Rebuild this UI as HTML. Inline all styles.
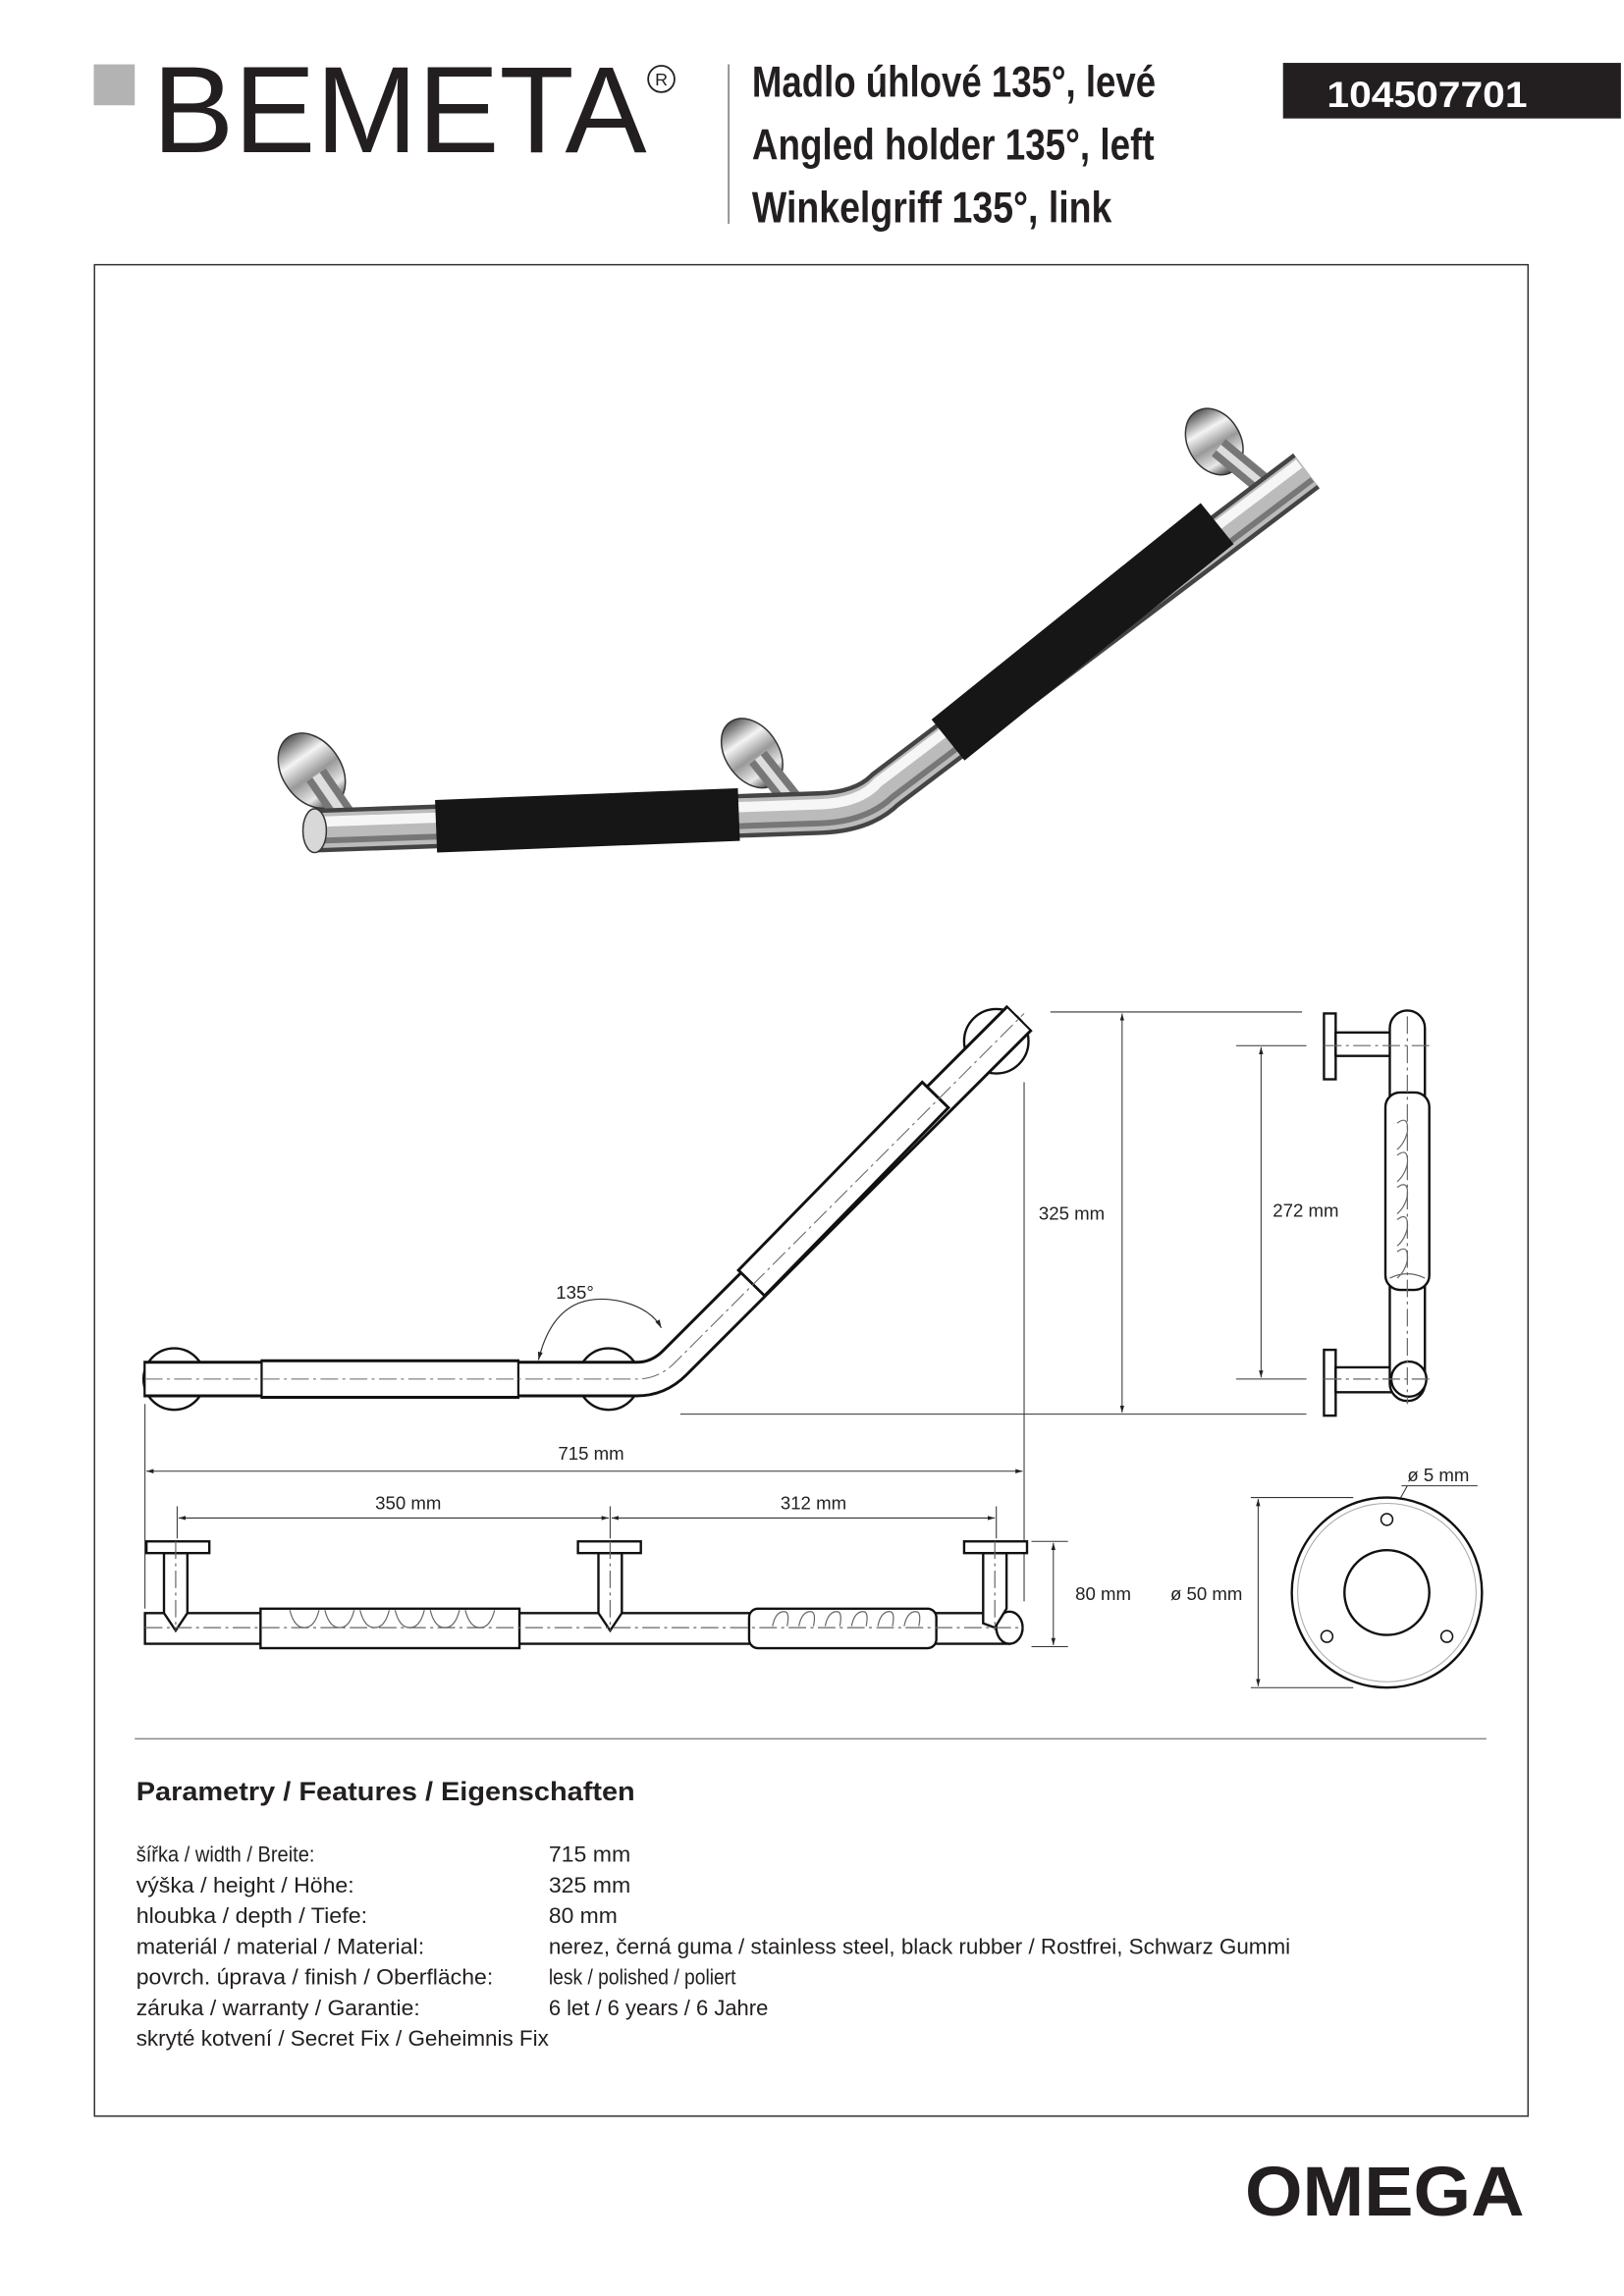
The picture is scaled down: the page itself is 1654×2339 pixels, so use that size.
<!DOCTYPE html>
<html><head><meta charset="utf-8"><style>
html,body{margin:0;padding:0;background:#fff}
svg{display:block}
text{font-family:"Liberation Sans",sans-serif}
</style></head><body>
<svg width="1654" height="2339" viewBox="0 0 1110 1570" xmlns="http://www.w3.org/2000/svg">
<defs>
<linearGradient id="chr" x1="0" y1="0" x2="0" y2="1">
<stop offset="0" stop-color="#555"/><stop offset="0.3" stop-color="#f4f4f4"/><stop offset="0.55" stop-color="#999"/><stop offset="0.8" stop-color="#e8e8e8"/><stop offset="1" stop-color="#444"/>
</linearGradient>
<marker id="ar" viewBox="0 0 10 10" refX="10" refY="5" markerWidth="7" markerHeight="7" orient="auto-start-reverse"><path d="M0,2 L10,5 L0,8 z" fill="#222"/></marker>
</defs>

<!-- header -->
<rect x="64" y="44" width="28" height="28" fill="#b3b3b3"/>
<text x="104" y="104" font-size="84" textLength="338" lengthAdjust="spacingAndGlyphs" fill="#231f20">BEMETA</text>
<circle cx="452" cy="54" r="9" fill="none" stroke="#231f20" stroke-width="1.2"/>
<text x="452" y="58.5" font-size="12" text-anchor="middle" fill="#231f20">R</text>
<line x1="498" y1="44" x2="498" y2="153" stroke="#777" stroke-width="1"/>
<text x="514" y="66" font-size="30" font-weight="bold" textLength="276" lengthAdjust="spacingAndGlyphs" fill="#231f20">Madlo úhlové 135°, levé</text>
<text x="514" y="109" font-size="30" font-weight="bold" textLength="275" lengthAdjust="spacingAndGlyphs" fill="#231f20">Angled holder 135°, left</text>
<text x="514" y="152" font-size="30" font-weight="bold" textLength="246" lengthAdjust="spacingAndGlyphs" fill="#231f20">Winkelgriff 135°, link</text>
<rect x="877" y="43" width="231" height="38" fill="#231f20"/>
<text x="907" y="73" font-size="25" font-weight="bold" textLength="137" lengthAdjust="spacingAndGlyphs" fill="#fff">104507701</text>

<rect x="64.5" y="181" width="980" height="1266" fill="none" stroke="#333" stroke-width="1"/>

<!-- photo -->
<g>
<ellipse cx="213" cy="527" rx="20" ry="28" transform="rotate(-35 213 527)" fill="url(#chr)" stroke="#333" stroke-width="1"/>
<ellipse cx="514" cy="515" rx="18" ry="26" transform="rotate(-35 514 515)" fill="url(#chr)" stroke="#333" stroke-width="1"/>
<ellipse cx="830" cy="302" rx="18" ry="24" transform="rotate(-30 830 302)" fill="url(#chr)" stroke="#333" stroke-width="1"/>
<path d="M216 530 L240 565" stroke="#777" stroke-width="16"/>
<path d="M216 530 L240 565" stroke="#ddd" stroke-width="6"/>
<path d="M518 518 L545 552" stroke="#777" stroke-width="15"/>
<path d="M518 518 L545 552" stroke="#ddd" stroke-width="5"/>
<path d="M833 306 L862 330" stroke="#777" stroke-width="15"/>
<path d="M833 306 L862 330" stroke="#ddd" stroke-width="5"/>
<path d="M215 568 L560 556 Q590 555 605 540 L893 322" fill="none" stroke="#444" stroke-width="30" stroke-linejoin="round"/>
<path d="M215 568 L560 556 Q590 555 605 540 L893 322" fill="none" stroke="#bbb" stroke-width="24" stroke-linejoin="round"/>
<path d="M215 562 L560 550 Q588 549 600 535 L888 317" fill="none" stroke="#f6f6f6" stroke-width="7"/>
<path d="M215 575 L560 563 Q592 562 610 545 L897 328" fill="none" stroke="#777" stroke-width="4"/>
<ellipse cx="215" cy="568" rx="8" ry="15" fill="#d8d8d8" stroke="#333" stroke-width="1"/>
<path d="M298 565 L505 557" stroke="#161616" stroke-width="36"/>
<path d="M648 506 L832 358" stroke="#161616" stroke-width="36"/>
</g>

<!-- front view -->
<g fill="#fff" stroke="#111" stroke-width="1.6">
<circle cx="119" cy="943" r="21"/>
<circle cx="416" cy="943" r="21"/>
<circle cx="681" cy="712" r="22"/>
</g>
<path d="M98 943 L435 943 Q450 943 461 932 L697 696" fill="none" stroke="#111" stroke-width="25" stroke-linejoin="round"/>
<path d="M99.5 943 L435 943 Q450 943 461 932 L696 697" fill="none" stroke="#fff" stroke-width="21" stroke-linejoin="round"/>
<path d="M178 943 L355 943" stroke="#111" stroke-width="27"/>
<path d="M179.5 943 L353.5 943" stroke="#fff" stroke-width="23"/>
<path d="M513 878 L640 748" stroke="#111" stroke-width="27"/>
<path d="M514.3 876.6 L638.6 749.4" stroke="#fff" stroke-width="23"/>
<path d="M99 943 L435 943 Q450 943 461 932 L700 693" fill="none" stroke="#666" stroke-width="0.7" stroke-dasharray="12 3 2 3"/>
<!-- 135 arc -->
<path d="M368 930 Q380 880 425 890 Q445 895 452 908" fill="none" stroke="#333" stroke-width="0.8" marker-start="url(#ar)" marker-end="url(#ar)"/>
<text x="380" y="888" font-size="12.5" fill="#222">135°</text>

<!-- dims -->
<g stroke="#333" stroke-width="0.7" fill="none">
<line x1="718" y1="692" x2="890" y2="692"/>
<line x1="465" y1="967" x2="893" y2="967"/>
<line x1="767" y1="693" x2="767" y2="966" marker-start="url(#ar)" marker-end="url(#ar)"/>
<line x1="845" y1="715" x2="893" y2="715"/>
<line x1="845" y1="943" x2="893" y2="943"/>
<line x1="862" y1="716" x2="862" y2="942" marker-start="url(#ar)" marker-end="url(#ar)"/>
<line x1="99" y1="960" x2="99" y2="1100"/>
<line x1="700" y1="740" x2="700" y2="1095"/>
<line x1="100" y1="1006" x2="699" y2="1006" marker-start="url(#ar)" marker-end="url(#ar)"/>
<line x1="121" y1="1030" x2="121" y2="1052"/>
<line x1="417" y1="1030" x2="417" y2="1052"/>
<line x1="681" y1="1030" x2="681" y2="1052"/>
<line x1="122" y1="1038" x2="416" y2="1038" marker-start="url(#ar)" marker-end="url(#ar)"/>
<line x1="418" y1="1038" x2="680" y2="1038" marker-start="url(#ar)" marker-end="url(#ar)"/>
<line x1="705" y1="1054" x2="730" y2="1054"/>
<line x1="705" y1="1126" x2="730" y2="1126"/>
<line x1="720" y1="1055" x2="720" y2="1125" marker-start="url(#ar)" marker-end="url(#ar)"/>
<line x1="855" y1="1024" x2="925" y2="1024"/>
<line x1="855" y1="1154" x2="925" y2="1154"/>
<line x1="860" y1="1025" x2="860" y2="1153" marker-start="url(#ar)" marker-end="url(#ar)"/>
</g>
<g font-size="12.5" fill="#222">
<text x="710" y="834">325 mm</text>
<text x="870" y="832">272 mm</text>
<text x="404" y="998" text-anchor="middle">715 mm</text>
<text x="279" y="1032" text-anchor="middle">350 mm</text>
<text x="556" y="1032" text-anchor="middle">312 mm</text>
<text x="735" y="1094">80 mm</text>
<text x="800" y="1094">ø 50 mm</text>
<text x="962" y="1013">ø 5 mm</text>
</g>
<line x1="958" y1="1016" x2="1010" y2="1016" stroke="#333" stroke-width="0.7"/>
<line x1="962" y1="1016" x2="944" y2="1048" stroke="#333" stroke-width="0.7" marker-end="url(#ar)"/>

<!-- side view -->
<g fill="#fff" stroke="#111" stroke-width="1.6">
<rect x="905" y="693" width="8" height="45"/>
<rect x="905" y="923" width="8" height="45"/>
<path d="M913 706 L960 706 L958 722 L913 722 Z"/>
<path d="M913 935 L960 935 L960 952 L913 952 Z"/>
<path d="M950 703 A12 12 0 0 1 974 703 L974 946 A12 12 0 0 1 950 946 Z"/>
<rect x="947" y="747" width="30" height="135" rx="10"/>
<circle cx="963" cy="943" r="12"/>
</g>
<g fill="none" stroke="#666" stroke-width="0.8">
<path d="M955 768 q8 -6 7 6 q-2 8 -7 12 M955 790 q8 -6 7 6 q-2 8 -7 12 M955 812 q8 -6 7 6 q-2 8 -7 12 M955 834 q8 -6 7 6 q-2 8 -7 12 M955 856 q8 -6 7 6 q-2 8 -7 12 M950 874 q12 -6 24 0"/>
<line x1="962" y1="695" x2="962" y2="960" stroke-dasharray="12 3 2 3"/>
<line x1="905" y1="715" x2="980" y2="715" stroke-dasharray="12 3 2 3"/>
<line x1="905" y1="943" x2="980" y2="943" stroke-dasharray="12 3 2 3"/>
</g>

<!-- top view -->
<g fill="#fff" stroke="#111" stroke-width="1.6">
<rect x="99" y="1113" width="601" height="0" />
<path d="M99 1103 L690 1103 L690 1124 L99 1124 Z"/>
<rect x="178" y="1100" width="177" height="27"/>
<rect x="512" y="1100" width="128" height="27" rx="6"/>
<ellipse cx="690" cy="1113" rx="9" ry="11"/>
<path d="M112 1062 L112 1103 L120 1115 L128 1103 L128 1062 Z"/>
<path d="M409 1062 L409 1103 L417 1115 L425 1103 L425 1062 Z"/>
<path d="M672 1062 L672 1110 L680 1113 L688 1100 L688 1062 Z"/>
<rect x="100" y="1054" width="43" height="8"/>
<rect x="395" y="1054" width="43" height="8"/>
<rect x="659" y="1054" width="43" height="8"/>
</g>
<g fill="none" stroke="#666" stroke-width="0.8">
<path d="M198 1101 q3 12 10 12 q7 0 10 -12 M222 1101 q3 12 10 12 q7 0 10 -12 M246 1101 q3 12 10 12 q7 0 10 -12 M270 1101 q3 12 10 12 q7 0 10 -12 M294 1101 q3 12 10 12 q7 0 10 -12 M318 1101 q3 12 10 12 q7 0 10 -12"/>
<path d="M528 1112 q2 -10 8 -10 q4 0 2 10 M546 1112 q2 -10 8 -10 q4 0 2 10 M564 1112 q2 -10 8 -10 q4 0 2 10 M582 1112 q2 -10 8 -10 q4 0 2 10 M600 1112 q2 -10 8 -10 q4 0 2 10 M618 1112 q2 -10 8 -10 q4 0 2 10"/>
<line x1="99" y1="1113" x2="700" y2="1113" stroke-dasharray="12 3 2 3"/>
<line x1="120" y1="1054" x2="120" y2="1115" stroke-dasharray="12 3 2 3"/>
<line x1="417" y1="1054" x2="417" y2="1115" stroke-dasharray="12 3 2 3"/>
<line x1="680" y1="1054" x2="680" y2="1115" stroke-dasharray="12 3 2 3"/>
</g>

<!-- round flange -->
<circle cx="948" cy="1089" r="65" fill="#fff" stroke="#111" stroke-width="1.6"/>
<circle cx="948" cy="1089" r="61" fill="none" stroke="#aaa" stroke-width="0.7"/>
<circle cx="948" cy="1089" r="29" fill="none" stroke="#111" stroke-width="1.6"/>
<circle cx="948" cy="1039" r="4" fill="none" stroke="#111" stroke-width="1"/>
<circle cx="907" cy="1119" r="4" fill="none" stroke="#111" stroke-width="1"/>
<circle cx="989" cy="1119" r="4" fill="none" stroke="#111" stroke-width="1"/>

<line x1="92" y1="1189" x2="1016" y2="1189" stroke="#888" stroke-width="1"/>

<!-- params -->
<text x="93" y="1231" font-size="18" font-weight="bold" textLength="341" lengthAdjust="spacingAndGlyphs" fill="#231f20">Parametry / Features / Eigenschaften</text>
<g font-size="15" fill="#231f20">
<text x="93" y="1273" textLength="122" lengthAdjust="spacingAndGlyphs">šířka / width / Breite:</text>
<text x="93" y="1294" textLength="149" lengthAdjust="spacingAndGlyphs">výška / height / Höhe:</text>
<text x="93" y="1315" textLength="158" lengthAdjust="spacingAndGlyphs">hloubka / depth / Tiefe:</text>
<text x="93" y="1336" textLength="197" lengthAdjust="spacingAndGlyphs">materiál / material / Material:</text>
<text x="93" y="1357" textLength="244" lengthAdjust="spacingAndGlyphs">povrch. úprava / finish / Oberfläche:</text>
<text x="93" y="1378" textLength="194" lengthAdjust="spacingAndGlyphs">záruka / warranty / Garantie:</text>
<text x="93" y="1399" textLength="282" lengthAdjust="spacingAndGlyphs">skryté kotvení / Secret Fix / Geheimnis Fix</text>
<text x="375" y="1273" textLength="56" lengthAdjust="spacingAndGlyphs">715 mm</text>
<text x="375" y="1294" textLength="56" lengthAdjust="spacingAndGlyphs">325 mm</text>
<text x="375" y="1315" textLength="47" lengthAdjust="spacingAndGlyphs">80 mm</text>
<text x="375" y="1336" textLength="507" lengthAdjust="spacingAndGlyphs">nerez, černá guma / stainless steel, black rubber / Rostfrei, Schwarz Gummi</text>
<text x="375" y="1357" textLength="128" lengthAdjust="spacingAndGlyphs">lesk / polished / poliert</text>
<text x="375" y="1378" textLength="150" lengthAdjust="spacingAndGlyphs">6 let / 6 years / 6 Jahre</text>
</g>
<text x="851" y="1515" font-size="48" font-weight="bold" textLength="191" lengthAdjust="spacingAndGlyphs" fill="#231f20">OMEGA</text>
</svg>
</body></html>
